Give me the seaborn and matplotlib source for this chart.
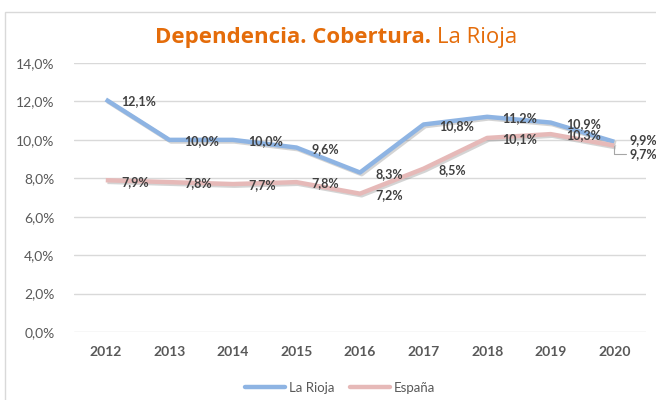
import numpy as np
import pandas as pd
import matplotlib
matplotlib.use("Agg")
import matplotlib.pyplot as plt
import matplotlib.patheffects as pe
from matplotlib.patches import Rectangle
import seaborn as sns

years = ["2012", "2013", "2014", "2015", "2016", "2017", "2018", "2019", "2020"]
la_rioja = [12.1, 10.0, 10.0, 9.6, 8.3, 10.8, 11.2, 10.9, 9.9]
espana = [7.9, 7.8, 7.7, 7.8, 7.2, 8.5, 10.1, 10.3, 9.7]
series_names = ["La Rioja", "España"]
y_ticks = [0, 2, 4, 6, 8, 10, 12, 14]

colors = {"La Rioja": "#8EB4E3", "España": "#E6B9B8"}
orange = "#E46C0A"
txt = "#404040"

df = pd.DataFrame({
    "idx": list(range(len(years))) * 2,
    "valor": la_rioja + espana,
    "serie": [series_names[0]] * len(years) + [series_names[1]] * len(years),
})

sns.set_theme(style="white")
plt.rcParams["font.family"] = ["Lato", "DejaVu Sans"]

fig = plt.figure(figsize=(6.56, 4.0), dpi=100)
ax = fig.add_axes([74 / 656, 1 - 332 / 400, 572 / 656, 269 / 400])

# marco gris del grafico
fig.patches.append(Rectangle((5 / 656, -0.1), 1.2, 1.1 - 12 / 400, transform=fig.transFigure,
                             fill=False, edgecolor="#D9D9D9", linewidth=1, zorder=0))

sns.lineplot(data=df, x="idx", y="valor", hue="serie", palette=colors, linewidth=3.2,
             ax=ax, legend=False, sort=False)
for line in ax.lines:
    line.set_path_effects([pe.SimpleLineShadow(offset=(1.2, -1.2), alpha=0.25, shadow_color="#555555"),
                           pe.Normal()])
    line.set_solid_capstyle("butt")
    line.set_solid_joinstyle("round")

ax.set_xlim(-0.5, len(years) - 0.5)
ax.set_ylim(0, 14)
ax.set_yticks(y_ticks)
ax.set_yticklabels([f"{t:.1f}".replace(".", ",") + "%" for t in y_ticks], color="#595959", fontsize=10)
ax.set_xticks(range(len(years)))
ax.set_xticklabels(years, fontweight="bold", color="#595959", fontsize=10)
ax.tick_params(axis="both", length=0, pad=10)
ax.tick_params(axis="y", pad=14)
ax.grid(axis="y", color="#D9D9D9", linewidth=1)
ax.set_axisbelow(True)
for s in ax.spines.values():
    s.set_visible(False)
ax.set_xlabel("")
ax.set_ylabel("")

def fmt(v):
    return f"{v:.1f}".replace(".", ",") + "%"

last = len(years) - 1
for i, v in enumerate(la_rioja):
    dy = 1.5 if i == last else -1
    ax.annotate(fmt(v), (i, v), xytext=(11, dy), textcoords="offset points",
                ha="left", va="center", fontsize=9, fontweight="bold", color=txt)
for i, v in enumerate(espana):
    if i == last:
        ax.annotate(fmt(v), (i, v), xytext=(11, -6), textcoords="offset points",
                    ha="left", va="center", fontsize=9, fontweight="bold", color=txt,
                    arrowprops=dict(arrowstyle="-", color="#A6A6A6", lw=0.8,
                                    shrinkA=0, shrinkB=0, connectionstyle="angle,angleA=0,angleB=90"))
    else:
        ax.annotate(fmt(v), (i, v), xytext=(11, -1), textcoords="offset points",
                    ha="left", va="center", fontsize=9, fontweight="bold", color=txt)

# titulo en dos partes
fig.canvas.draw()
r = fig.canvas.get_renderer()
t1 = fig.text(0, 1 - 38 / 400, "Dependencia. Cobertura. ", fontsize=16, fontweight="bold",
              color=orange, va="center", ha="left", family=["Open Sans", "DejaVu Sans"])
t2 = fig.text(0, 1 - 38 / 400, "La Rioja", fontsize=16, color=orange, va="center", ha="left",
              family=["Open Sans", "DejaVu Sans"])
w1 = t1.get_window_extent(r).width / 656
w2 = t2.get_window_extent(r).width / 656
x0 = 336 / 656 - (w1 + w2) / 2
t1.set_x(x0)
t2.set_x(x0 + w1)

handles = [plt.Line2D([], [], color=colors[n], lw=3.2) for n in series_names]
fig.legend(handles, series_names, loc="center", bbox_to_anchor=(340 / 656, 1 - 388 / 400),
           ncol=2, frameon=False, fontsize=9.5, labelcolor="#595959", handlelength=3,
           columnspacing=1.2, handletextpad=0.3)

fig.savefig("out.png", dpi=100)
